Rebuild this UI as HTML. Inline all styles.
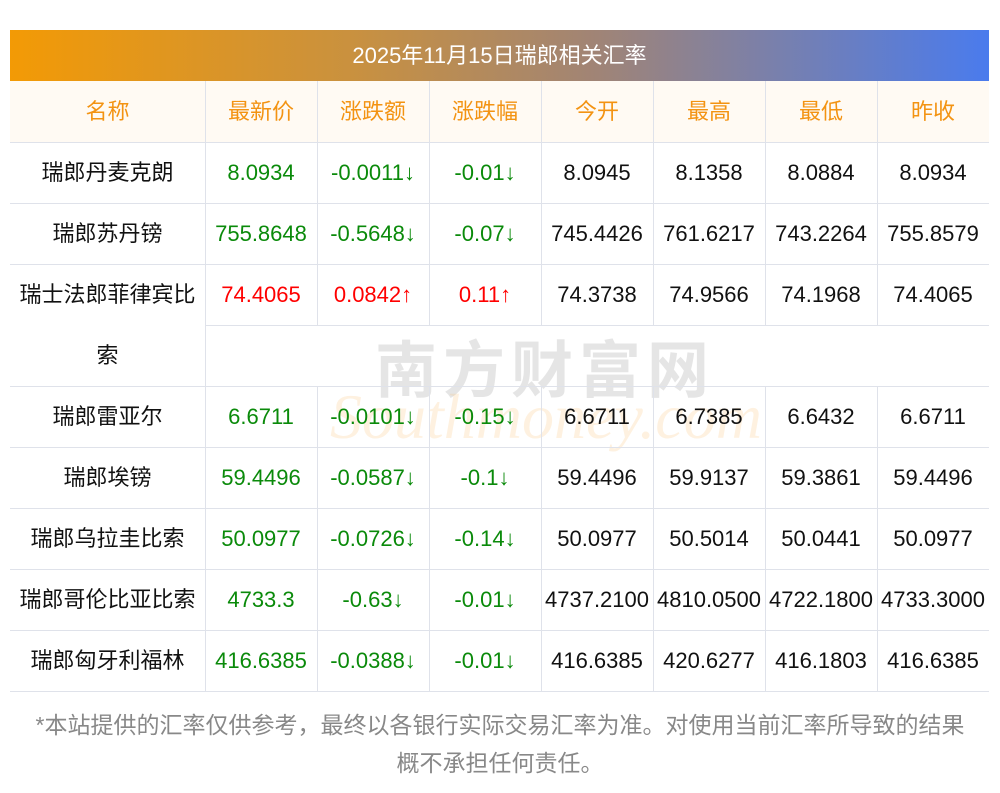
<!DOCTYPE html><html><head><meta charset="utf-8"><style>
body{margin:0;width:1000px;height:793px;background:#fff;position:relative;overflow:hidden;font-family:"Liberation Sans","Noto Sans CJK SC",sans-serif}
.a{position:absolute}
.t{position:absolute;text-align:center;font-size:22px;line-height:61px;white-space:nowrap;color:#111}
.h{background:#fffaf3;color:#f39312}
.t.g{color:#0a8a0a}.t.r{color:#f00}
.hl{position:absolute;height:1px;background:#dfe2ea}
.vl{position:absolute;width:1px;background:#dfe2ea}
</style></head><body>
<div class="a" style="left:10px;top:30px;width:979px;height:51px;background:linear-gradient(90deg,#f39a05,#c9913f 35%,#a08476 60%,#4a7bed);color:#fff;font-size:22px;line-height:51px;text-align:center">2025年11月15日瑞郎相关汇率</div>
<div class="a h" style="left:10px;top:81px;width:979px;height:61px"></div>
<div class="a" style="top:320px;left:375px;font-size:62px;color:rgba(160,160,160,0.28);letter-spacing:6px;font-weight:bold;font-family:'Noto Sans CJK SC',sans-serif">南方财富网</div>
<div class="a" style="left:330px;top:380px;font-size:64px;color:rgba(250,200,130,0.25);font-style:italic;font-family:'Liberation Serif',serif">Southmoney.com</div>
<div id="c"></div>
<div class="a" style="left:0px;top:706px;width:1000px;text-align:center;font-size:23px;line-height:38px;color:#888">*本站提供的汇率仅供参考，最终以各银行实际交易汇率为准。对使用当前汇率所导致的结果<br>概不承担任何责任。</div>
<script>
var X=[10,205,317,429,541,653,765,877,989];
var H=["名称","最新价","涨跌额","涨跌幅","今开","最高","最低","昨收"];
var R=[["瑞郎丹麦克朗","8.0934","-0.0011↓","-0.01↓","8.0945","8.1358","8.0884","8.0934"],
["瑞郎苏丹镑","755.8648","-0.5648↓","-0.07↓","745.4426","761.6217","743.2264","755.8579"],
["瑞士法郎菲律宾比","74.4065","0.0842↑","0.11↑","74.3738","74.9566","74.1968","74.4065"],
["瑞郎雷亚尔","6.6711","-0.0101↓","-0.15↓","6.6711","6.7385","6.6432","6.6711"],
["瑞郎埃镑","59.4496","-0.0587↓","-0.1↓","59.4496","59.9137","59.3861","59.4496"],
["瑞郎乌拉圭比索","50.0977","-0.0726↓","-0.14↓","50.0977","50.5014","50.0441","50.0977"],
["瑞郎哥伦比亚比索","4733.3","-0.63↓","-0.01↓","4737.2100","4810.0500","4722.1800","4733.3000"],
["瑞郎匈牙利福林","416.6385","-0.0388↓","-0.01↓","416.6385","420.6277","416.1803","416.6385"]];
var Y=[142,203,264,386,447,508,569,630];
var s="";
function cell(x0,x1,y,txt,cls){s+='<div class="t '+cls+'" style="left:'+x0+'px;width:'+(x1-x0)+'px;top:'+y+'px">'+txt+'</div>';}
for(var i=0;i<8;i++)cell(X[i],X[i+1],81,H[i],"h");
for(var r=0;r<8;r++){var y=Y[r];var up=R[r][2].indexOf("↑")>=0;
for(var i=0;i<8;i++)cell(X[i],X[i+1],y,R[r][i],i==0?"":(i<4?(up?"r":"g"):""));}
cell(10,205,325,"索","");
[142,203,264,386,447,508,569,630,691].forEach(function(y){s+='<div class="hl" style="left:10px;width:979px;top:'+y+'px"></div>';});
s+='<div class="hl" style="left:205px;width:784px;top:325px"></div>';
for(var i=1;i<8;i++){s+='<div class="vl" style="left:'+X[i]+'px;top:81px;height:244px"></div>';s+='<div class="vl" style="left:'+X[i]+'px;top:386px;height:305px"></div>';}
s+='<div class="vl" style="left:205px;top:325px;height:61px"></div>';
document.getElementById("c").innerHTML=s;
</script>
</body></html>
